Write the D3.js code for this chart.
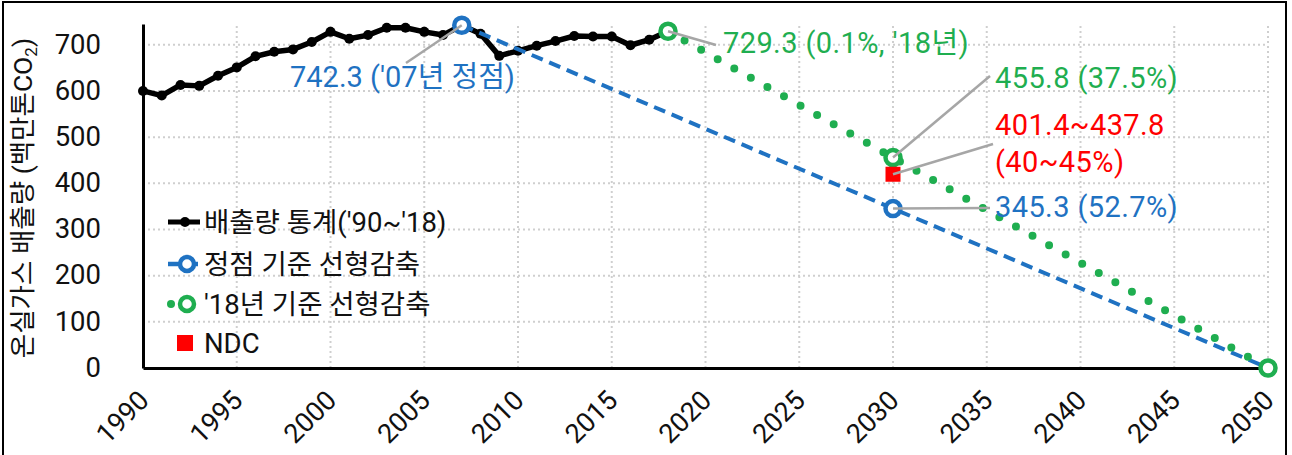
<!DOCTYPE html>
<html>
<head>
<meta charset="utf-8">
<script src="https://cdn.jsdelivr.net/npm/d3@7"></script>
<style>
  body { margin: 0; background: #fff; }
  svg { display: block; font-family: Roboto, "Noto Sans CJK KR", sans-serif; }
</style>
</head>
<body>
<svg id="chart" width="1292" height="455"></svg>
<script>
// data
var years = d3.range(1990, 2019);
var emissions = [600, 590, 613, 611, 633, 651, 675, 685, 690, 706,
                 728, 713, 721, 737, 737, 728, 721, 742.3, 724, 676,
                 687, 698, 708, 719, 718, 718, 699, 711, 729.3];
var peakYears = [2007, 2030, 2050];
var peakValues = [742.3, 345.3, 0];
var baseYears = [2018, 2030, 2050];
var baseValues = [729.3, 455.8, 0];
var ndcYear = [2030];
var ndcValue = [419.6];
var xTicks = d3.range(1990, 2051, 5);
var yTicks = [0, 100, 200, 300, 400, 500, 600, 700];
var legendLabels = ["배출량 통계('90~'18)", "정점 기준 선형감축", "'18년 기준 선형감축", "NDC"];

var BLUE = "#1f72c2", GREEN = "#1fae50", RED = "#ff0000", GREY = "#a6a6a6";

var svg = d3.select("#chart");
var x = d3.scaleLinear().domain([1990, 2050]).range([143, 1268]);
var y = d3.scaleLinear().domain([0, 745]).range([368, 24]);

// outer frame
svg.append("rect").attr("x", 3).attr("y", 2).attr("width", 1283).attr("height", 470)
  .attr("fill", "none").attr("stroke", "#000").attr("stroke-width", 2);

// grid
var grid = svg.append("g").attr("stroke", "#cfcfcf").attr("stroke-width", 2).attr("stroke-dasharray", "2,3");
grid.selectAll(".h").data(yTicks.filter(function(d) { return d > 0; })).enter().append("line")
  .attr("x1", x(1990)).attr("x2", x(2050)).attr("y1", y).attr("y2", y);
grid.selectAll(".v").data(xTicks.slice(1)).enter().append("line")
  .attr("x1", x).attr("x2", x).attr("y1", y(0)).attr("y2", y(745));

// axes
var yAxis = svg.append("g").attr("transform", "translate(" + x(1990) + ",0)")
  .call(d3.axisLeft(y).tickValues(yTicks).tickSize(0).tickPadding(42));
yAxis.select(".domain").attr("stroke", "#000").attr("stroke-width", 3);
yAxis.selectAll("text").attr("font-size", 27.5).attr("font-family", "Roboto").attr("fill", "#111").attr("dy", "0.3em");

var xAxis = svg.append("g").attr("transform", "translate(0," + y(0) + ")")
  .call(d3.axisBottom(x).tickValues(xTicks).tickFormat(d3.format("d")).tickSize(0));
xAxis.select(".domain").attr("stroke", "#000").attr("stroke-width", 3);
xAxis.selectAll("text").attr("font-size", 27).attr("font-family", "Roboto").attr("fill", "#111")
  .attr("text-anchor", "end").attr("y", 0).attr("dy", 0)
  .attr("transform", "translate(7,34) rotate(-45)");

// y title
svg.append("text").attr("transform", "translate(32,198) rotate(-90)")
  .attr("text-anchor", "middle").attr("font-size", 26.5).attr("fill", "#111")
  .html("온실가스 배출량 (백만톤CO<tspan font-size='17' dy='5'>2</tspan><tspan dy='-5'>)</tspan>");

var line = d3.line().x(function(d) { return x(d[0]); }).y(function(d) { return y(d[1]); });
var hist = d3.zip(years, emissions);
var peak = d3.zip(peakYears, peakValues);
var base = d3.zip(baseYears, baseValues);

// history
svg.append("path").datum(hist).attr("d", line).attr("fill", "none")
  .attr("stroke", "#000").attr("stroke-width", 5.5).attr("stroke-linejoin", "round");
svg.selectAll(".hp").data(hist).enter().append("circle")
  .attr("cx", function(d) { return x(d[0]); }).attr("cy", function(d) { return y(d[1]); })
  .attr("r", 5).attr("fill", "#000");

// scenarios
svg.append("path").datum(peak).attr("d", line).attr("fill", "none")
  .attr("stroke", BLUE).attr("stroke-width", 4).attr("stroke-dasharray", "12,7");
svg.append("path").datum(base).attr("d", line).attr("fill", "none")
  .attr("stroke", GREEN).attr("stroke-width", 8).attr("stroke-linecap", "round")
  .attr("stroke-dasharray", "0,19").attr("stroke-dashoffset", -19);

svg.selectAll(".pm").data(peak.slice(0, 2)).enter().append("circle")
  .attr("cx", function(d) { return x(d[0]); }).attr("cy", function(d) { return y(d[1]); })
  .attr("r", 7.5).attr("fill", "#fff").attr("stroke", BLUE).attr("stroke-width", 4.5);
svg.selectAll(".bm").data(base).enter().append("circle")
  .attr("cx", function(d) { return x(d[0]); }).attr("cy", function(d) { return y(d[1]); })
  .attr("r", 7.5).attr("fill", "#fff").attr("stroke", GREEN).attr("stroke-width", 4.5);
svg.selectAll(".ndc").data(d3.zip(ndcYear, ndcValue)).enter().append("rect")
  .attr("x", function(d) { return x(d[0]) - 7.5; }).attr("y", function(d) { return y(d[1]) - 7.5; })
  .attr("width", 15).attr("height", 15).attr("fill", RED);

// annotations
var notes = [
  { px: x(2007), py: y(742.3), lx: 406, ly: 63, tx: 290, ty: [87], ls: 0, lines: ["742.3 ('07년 정점)"], color: BLUE },
  { px: x(2018), py: y(729.3), lx: 716, ly: 45, tx: 723, ty: [53], ls: 0.4, lines: ["729.3 (0.1%, '18년)"], color: GREEN },
  { px: x(2030), py: y(455.8), lx: 990, ly: 76, tx: 995, ty: [88], ls: 0.4, lines: ["455.8 (37.5%)"], color: GREEN },
  { px: x(2030), py: y(ndcValue[0]), lx: 993, ly: 144, tx: 995, ty: [135, 172], ls: 0.4, lines: ["401.4~437.8", "(40~45%)"], color: RED },
  { px: x(2030), py: y(345.3), lx: 990, ly: 208, tx: 995, ty: [217], ls: 0.4, lines: ["345.3 (52.7%)"], color: BLUE }
];
notes.forEach(function(n) {
  svg.append("line").attr("x1", n.px).attr("y1", n.py).attr("x2", n.lx).attr("y2", n.ly)
    .attr("stroke", GREY).attr("stroke-width", 2.5);
  n.lines.forEach(function(t, i) {
    svg.append("text").attr("x", n.tx).attr("y", n.ty[i]).attr("font-size", 29)
      .attr("letter-spacing", n.ls).attr("fill", n.color).text(t);
  });
});

// legend
var lg = svg.append("g");
var rows = [222, 264, 304, 343];
lg.append("line").attr("x1", 168).attr("x2", 200).attr("y1", rows[0]).attr("y2", rows[0])
  .attr("stroke", "#000").attr("stroke-width", 5);
lg.append("circle").attr("cx", 185).attr("cy", rows[0]).attr("r", 5).attr("fill", "#000");
lg.append("line").attr("x1", 168).attr("x2", 198).attr("y1", rows[1]).attr("y2", rows[1])
  .attr("stroke", BLUE).attr("stroke-width", 4.5);
lg.append("circle").attr("cx", 187).attr("cy", rows[1]).attr("r", 7).attr("fill", "#fff")
  .attr("stroke", BLUE).attr("stroke-width", 4.5);
lg.append("circle").attr("cx", 171).attr("cy", rows[2]).attr("r", 4).attr("fill", GREEN);
lg.append("circle").attr("cx", 187).attr("cy", rows[2]).attr("r", 7).attr("fill", "#fff")
  .attr("stroke", GREEN).attr("stroke-width", 4.5);
lg.append("rect").attr("x", 177).attr("y", rows[3] - 8).attr("width", 16).attr("height", 16).attr("fill", RED);
lg.selectAll("text").data(legendLabels).enter().append("text")
  .attr("x", 204).attr("y", function(d, i) { return rows[i]; }).attr("dy", "0.36em")
  .attr("font-size", 27.5).attr("fill", "#111").text(function(d) { return d; });
</script>
</body>
</html>
